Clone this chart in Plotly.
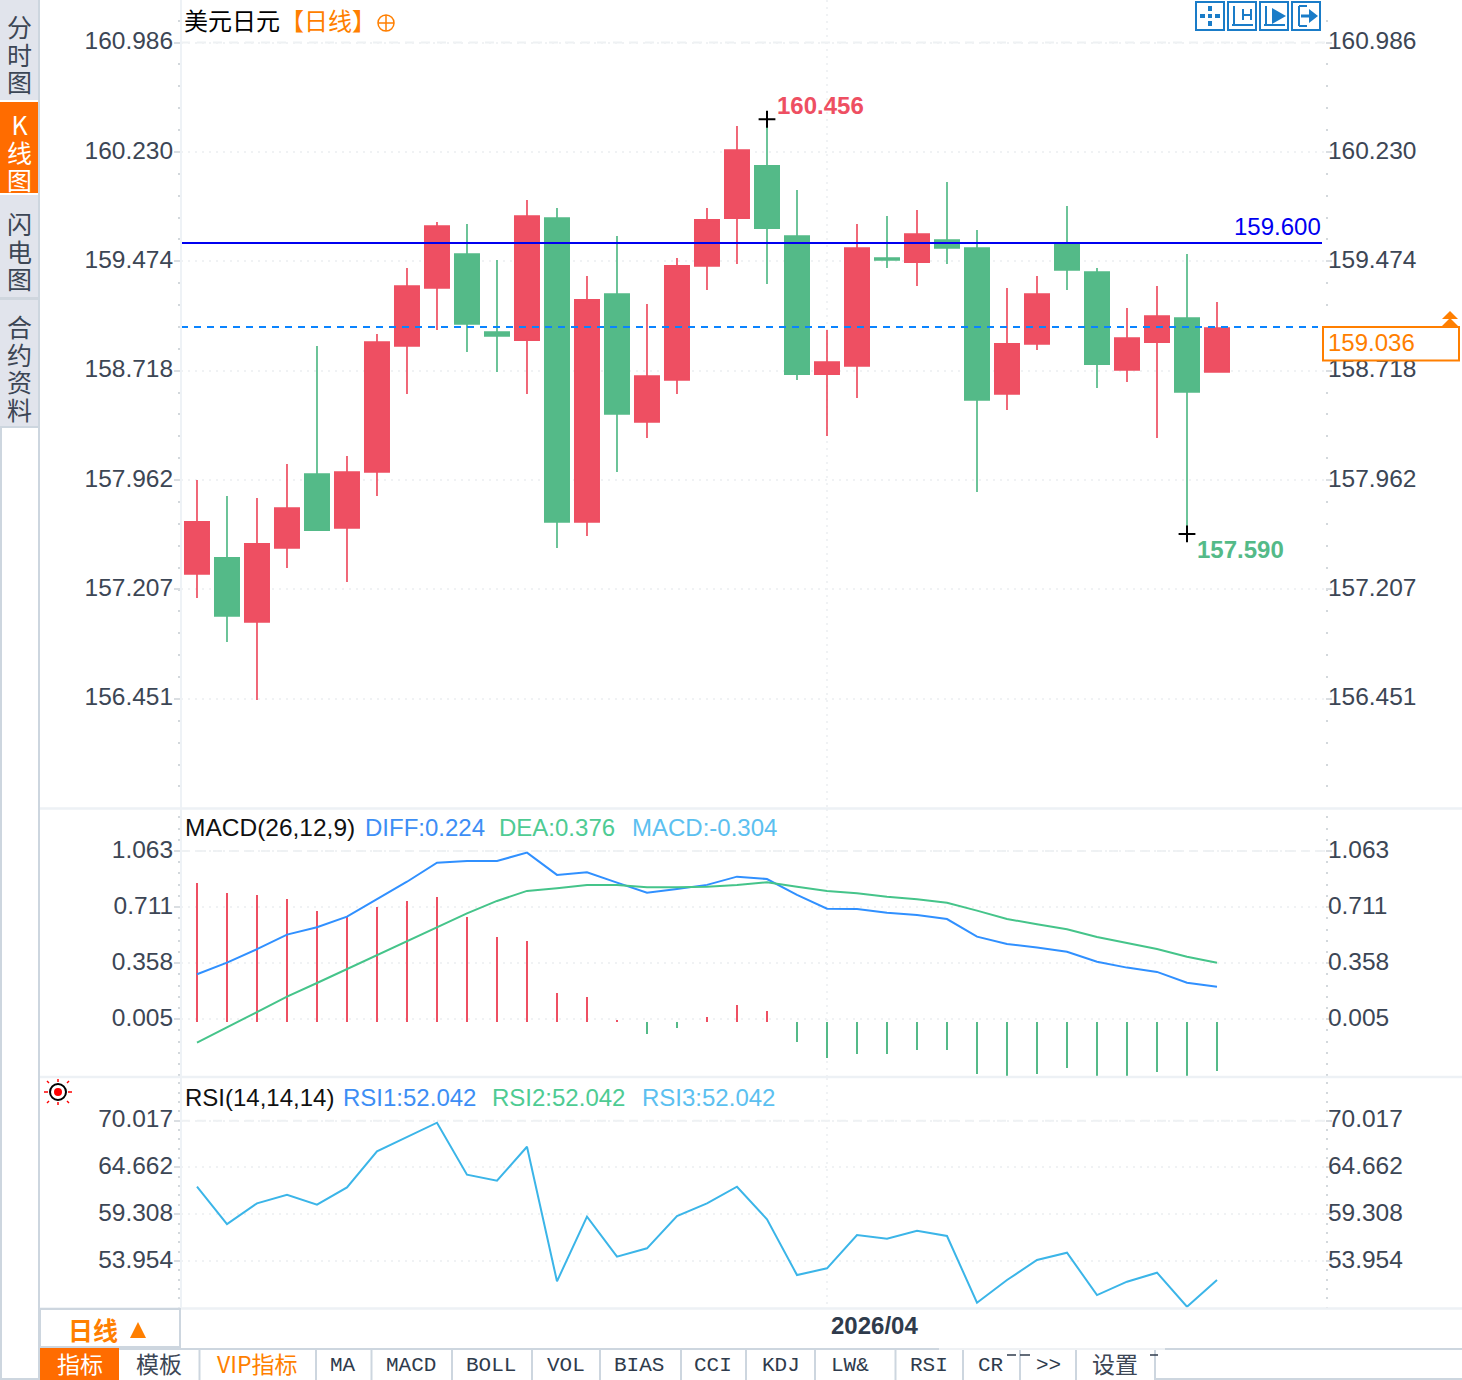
import plotly.graph_objects as go

W = 1462
H = 1380

# values
dates = ["2026/03/03", "2026/03/04", "2026/03/05", "2026/03/06", "2026/03/09", "2026/03/10", "2026/03/11",
         "2026/03/12", "2026/03/13", "2026/03/16", "2026/03/17", "2026/03/18", "2026/03/19", "2026/03/20",
         "2026/03/23", "2026/03/24", "2026/03/25", "2026/03/26", "2026/03/27", "2026/03/30", "2026/03/31",
         "2026/04/01", "2026/04/02", "2026/04/03", "2026/04/06", "2026/04/07", "2026/04/08", "2026/04/09",
         "2026/04/10", "2026/04/13", "2026/04/14", "2026/04/15", "2026/04/16", "2026/04/17", "2026/04/20"]
opens = [157.313, 157.424, 156.982, 157.493, 158.004, 157.631, 158.018, 158.889, 159.290, 159.524, 158.985, 158.930,
         159.773, 157.673, 159.248, 158.364, 158.654, 159.442, 159.773, 160.133, 159.649, 158.695, 158.751, 159.497,
         159.469, 159.621, 159.566, 158.557, 158.903, 159.594, 159.400, 158.723, 158.916, 159.082, 158.709]
highs = [157.963, 157.852, 157.838, 158.073, 158.889, 158.129, 158.972, 159.428, 159.746, 159.732, 159.483, 159.898,
         159.842, 159.373, 159.649, 159.179, 159.497, 159.842, 160.409, 160.456, 159.967, 159.000, 159.732, 159.787,
         159.829, 160.022, 159.690, 159.290, 159.373, 159.856, 159.428, 159.151, 159.303, 159.524, 159.193]
lows = [157.147, 156.843, 156.443, 157.355, 157.617, 157.258, 157.852, 158.557, 159.000, 158.847, 158.709, 158.557,
        157.493, 157.576, 158.018, 158.253, 158.557, 159.276, 159.455, 159.317, 158.654, 158.267, 158.529, 159.428,
        159.303, 159.455, 157.880, 158.447, 158.861, 159.276, 158.598, 158.640, 158.253, 157.590, 158.709]
closes = [157.673, 157.023, 157.521, 157.769, 157.617, 158.018, 158.916, 159.303, 159.718, 159.041, 158.958, 159.787,
          157.673, 159.207, 158.419, 158.681, 159.442, 159.760, 160.243, 159.704, 158.695, 158.778, 159.566, 159.483,
          159.663, 159.566, 158.516, 158.903, 159.248, 159.414, 158.764, 158.944, 159.096, 158.571, 159.013]

diff = [0.303, 0.376, 0.461, 0.553, 0.599, 0.666, 0.776, 0.886, 1.006, 1.017, 1.017, 1.069, 0.929, 0.946, 0.880,
        0.817, 0.840, 0.866, 0.918, 0.903, 0.803, 0.716, 0.714, 0.691, 0.677, 0.651, 0.540, 0.494, 0.471, 0.445,
        0.382, 0.345, 0.318, 0.250, 0.224]
dea = [-0.128, -0.033, 0.064, 0.162, 0.248, 0.336, 0.425, 0.513, 0.603, 0.687, 0.765, 0.828, 0.845, 0.866, 0.866,
       0.851, 0.851, 0.855, 0.866, 0.883, 0.855, 0.828, 0.813, 0.792, 0.776, 0.754, 0.704, 0.651, 0.618, 0.587,
       0.538, 0.502, 0.462, 0.414, 0.376]
macd = [0.876, 0.813, 0.800, 0.775, 0.699, 0.666, 0.725, 0.762, 0.788, 0.662, 0.536, 0.510, 0.183, 0.158, 0.014,
        -0.076, -0.038, 0.032, 0.107, 0.069, -0.126, -0.227, -0.202, -0.202, -0.176, -0.176, -0.328, -0.340,
        -0.328, -0.290, -0.340, -0.340, -0.315, -0.340, -0.304]
rsi = [62.72, 58.45, 60.82, 61.81, 60.66, 62.65, 66.78, 68.38, 70.05, 64.10, 63.41, 67.30, 51.89, 59.29, 54.71,
       55.67, 59.37, 60.82, 62.72, 58.99, 52.61, 53.38, 57.19, 56.77, 57.68, 57.08, 49.44, 52.04, 54.33, 55.17,
       50.32, 51.85, 52.88, 48.98, 52.042]

price_ticks = [160.986, 160.230, 159.474, 158.718, 157.962, 157.207, 156.451]
macd_ticks = [1.063, 0.711, 0.358, 0.005]
rsi_ticks = [70.017, 64.662, 59.308, 53.954]
# the grid in the lower panes sits a little off the plotted zero, same as the original chart
macd_grid_shift = 0.016
rsi_grid_shift = 0.27

target_price = 159.600
last_line = 159.020
high_mark = ("2026/03/30", 160.456)
low_mark = ("2026/04/17", 157.590)

RED = "#EE4F62"
GREEN = "#54BA88"
ORANGE = "#FF7F00"
TICK_TEXT = "#3C4655"
SANS = "Liberation Sans"
CJK = "Noto Sans CJK SC"
MONO = "Liberation Mono"
CHROME = "#CDD6DF"


def X(x):
    return x / W


def Y(y):
    return 1 - y / H


shapes = []
annotations = []


def rect(x0, y0, x1, y1, fill=None, line=None, width=0):
    shapes.append(dict(type="rect", xref="paper", yref="paper", x0=X(x0), x1=X(x1), y0=Y(y0), y1=Y(y1),
                       fillcolor=fill or "rgba(0,0,0,0)", line=dict(color=line or "rgba(0,0,0,0)", width=width)))


def seg(x0, y0, x1, y1, color=CHROME, width=2):
    shapes.append(dict(type="line", xref="paper", yref="paper", x0=X(x0), x1=X(x1), y0=Y(y0), y1=Y(y1),
                       line=dict(color=color, width=width)))


def poly(points, fill=None, line=None, width=0):
    path = "M " + " L ".join(f"{X(a):.5f} {Y(b):.5f}" for a, b in points) + (" Z" if fill else "")
    shapes.append(dict(type="path", xref="paper", yref="paper", path=path,
                       fillcolor=fill or "rgba(0,0,0,0)", line=dict(color=line or "rgba(0,0,0,0)", width=width)))


def label(x, y, text, color="#000000", size=24, anchor="left", family=SANS):
    annotations.append(dict(xref="paper", yref="paper", x=X(x), y=Y(y), text=text, showarrow=False,
                            xanchor=anchor, yanchor="middle", borderpad=0,
                            font=dict(family=family, size=size, color=color)))


def side_tab(cy, chars, color=TICK_TEXT):
    # line pitch comes from the annotation size, glyph size from the span
    text = "<br>".join(f'<span style="font-size:25px">{c}</span>' for c in chars)
    label(19, cy, text, color, 21.2, "center", CJK)


def y_axis(domain, rng, vals, texts, dtick, tick0, side="left", overlay=None, grid=True):
    ax = dict(domain=domain, range=rng, side=side, tickmode="array", tickvals=vals, ticktext=texts,
              ticks="outside", ticklen=6, tickwidth=2, tickcolor="#DADEE2",
              tickfont=dict(family=SANS, size=24.5, color=TICK_TEXT),
              ticklabelstandoff=-4 if side == "left" else -9, ticklabelshift=-2,
              showline=False, zeroline=False, fixedrange=True, anchor="x",
              showgrid=grid, gridcolor="#F0F2F4", gridwidth=2, griddash="2px,5px",
              minor=dict(ticks="outside", ticklen=2, tickwidth=2, tickcolor="#D3D8DC", tickmode="linear",
                         tick0=tick0, dtick=dtick, showgrid=False))
    if overlay:
        ax["overlaying"] = overlay
    return ax


fig = go.Figure()

fig.add_trace(go.Candlestick(
    x=dates, open=opens, high=highs, low=lows, close=closes,
    increasing=dict(line=dict(color=RED, width=1.7), fillcolor=RED),
    decreasing=dict(line=dict(color=GREEN, width=1.7), fillcolor=GREEN),
    whiskerwidth=0, xaxis="x", yaxis="y", showlegend=False,
))
# crosses on the marked high and low
fig.add_trace(go.Scatter(
    x=[high_mark[0], low_mark[0]], y=[high_mark[1], low_mark[1]],
    mode="markers", marker=dict(symbol="cross-thin", size=12, line=dict(color="#000000", width=2)),
    xaxis="x", yaxis="y", showlegend=False, hoverinfo="skip",
))

fig.add_trace(go.Bar(x=dates, y=macd, width=0.055, marker_color=[RED if v > 0 else GREEN for v in macd],
                     marker_line_width=0, xaxis="x2", yaxis="y2", showlegend=False))
fig.add_trace(go.Scatter(x=dates, y=diff, mode="lines", line=dict(color="#3090FF", width=2),
                         xaxis="x2", yaxis="y2", showlegend=False))
fig.add_trace(go.Scatter(x=dates, y=dea, mode="lines", line=dict(color="#45C48A", width=2),
                         xaxis="x2", yaxis="y2", showlegend=False))

fig.add_trace(go.Scatter(x=dates, y=rsi, mode="lines", line=dict(color="#3BB5E8", width=2),
                         xaxis="x3", yaxis="y3", showlegend=False))

# right hand scales carry one hidden point each so the axes get drawn
fig.add_trace(go.Scatter(x=dates[:1], y=closes[:1], mode="markers", marker=dict(opacity=0),
                         xaxis="x", yaxis="y4", showlegend=False, hoverinfo="skip"))
fig.add_trace(go.Scatter(x=dates[:1], y=diff[:1], mode="markers", marker=dict(opacity=0),
                         xaxis="x2", yaxis="y5", showlegend=False, hoverinfo="skip"))
fig.add_trace(go.Scatter(x=dates[:1], y=rsi[:1], mode="markers", marker=dict(opacity=0),
                         xaxis="x3", yaxis="y6", showlegend=False, hoverinfo="skip"))

x_range = [-0.533, 37.6]
x_domain = [X(181), X(1325)]
dom_main = [Y(808), 1]
dom_macd = [Y(1077), Y(809)]
dom_rsi = [Y(1308), Y(1078)]
rng_main = [155.696, 161.280]
rng_macd = [-0.344, 1.344]
rng_rsi = [48.836, 75.17]

x_common = dict(domain=x_domain, range=x_range, type="category", categoryorder="array", categoryarray=dates,
                tickmode="array", tickvals=["2026/04/01"], showticklabels=False, ticks="", showline=False,
                zeroline=False, fixedrange=True, showgrid=True, gridcolor="#F0F2F4", gridwidth=2,
                griddash="2px,5px", rangeslider=dict(visible=False))

macd_vals = [round(v + macd_grid_shift, 3) for v in macd_ticks]
rsi_vals = [round(v + rsi_grid_shift, 3) for v in rsi_ticks]
price_text = [f"{v:.3f}" for v in price_ticks]
macd_text = [f"{v:.3f}" for v in macd_ticks]
rsi_text = [f"{v:.3f}" for v in rsi_ticks]

fig.update_layout(
    width=W, height=H, margin=dict(l=0, r=0, t=0, b=0), paper_bgcolor="#FFFFFF", plot_bgcolor="#FFFFFF",
    showlegend=False, boxgap=0.19, boxgroupgap=0, bargap=0,
    xaxis=dict(x_common, anchor="y"),
    xaxis2=dict(x_common, anchor="y2"),
    xaxis3=dict(x_common, anchor="y3"),
    yaxis=y_axis(dom_main, rng_main, price_ticks, price_text, 0.1512, 160.986),
    yaxis2=y_axis(dom_macd, rng_macd, macd_vals, macd_text, 0.0706, macd_vals[0]),
    yaxis3=y_axis(dom_rsi, rng_rsi, rsi_vals, rsi_text, 1.0708, rsi_vals[0]),
    yaxis4=y_axis(dom_main, rng_main, price_ticks, price_text, 0.1512, 160.986, "right", "y", False),
    yaxis5=y_axis(dom_macd, rng_macd, macd_vals, macd_text, 0.0706, macd_vals[0], "right", "y2", False),
    yaxis6=y_axis(dom_rsi, rng_rsi, rsi_vals, rsi_text, 1.0708, rsi_vals[0], "right", "y3", False),
)
fig.layout.yaxis2.anchor = "x2"
fig.layout.yaxis5.anchor = "x2"
fig.layout.yaxis3.anchor = "x3"
fig.layout.yaxis6.anchor = "x3"
fig.layout.yaxis4.anchor = "x"

# dashed top grid lines, target and last price lines
for ref, val in (("y", price_ticks[0]), ("y2", macd_vals[0]), ("y3", rsi_vals[0])):
    shapes.append(dict(type="line", xref="paper", yref=ref, x0=X(181), x1=X(1325), y0=val, y1=val, layer="below",
                       line=dict(color="#EEF1F3", width=2, dash="9px,7px")))
shapes.append(dict(type="line", xref="paper", yref="y", x0=X(181), x1=X(1322), y0=target_price, y1=target_price,
                   line=dict(color="#0000F0", width=2)))
shapes.append(dict(type="line", xref="paper", yref="y", x0=X(181), x1=X(1318), y0=last_line, y1=last_line,
                   line=dict(color="#0A84FF", width=2, dash="7px,6px")))

# pane frame
seg(181, 0, 181, 1308, "#EEF2F6", 2)
seg(40, 808.5, W, 808.5, "#EDF1F5", 2.5)
seg(40, 1077, W, 1077, "#EDF1F5", 2.5)
seg(40, 1308.5, W, 1308.5, "#EDF1F5", 2.5)

# left side tabs
rect(0, 0, 39, 100, "#E1E4EC")
rect(0, 102, 38, 193, "#FF6C00")
rect(0, 195, 39, 297, "#E1E4EC")
rect(0, 300, 39, 426, "#E1E4EC")
rect(0, 297, 39, 300, "#CFD6DE")
seg(39, 0, 39, H, CHROME, 2)
seg(1, 426, 1, H, CHROME, 2)
seg(0, 427, 39, 427, CHROME, 2)
seg(0, 1379, 40, 1379, CHROME, 2)
side_tab(54, "分时图")
side_tab(152, "K线图", "#FFFFFF")
side_tab(250, "闪电图")
side_tab(368, "合约资料")

# title line
label(183, 20, "美元日元", "#000000", 24, "left", CJK)
label(279, 20, "【日线】", ORANGE, 24, "left", CJK)
shapes.append(dict(type="circle", xref="paper", yref="paper", x0=X(378), x1=X(394), y0=Y(15), y1=Y(31),
                   line=dict(color=ORANGE, width=1.5)))
seg(378, 23, 394, 23, ORANGE, 1.5)
seg(386, 15, 386, 31, ORANGE, 1.5)

# tool buttons
BLUE = "#1A7CC8"
for x0 in (1196, 1228, 1260, 1292):
    rect(x0, 2, x0 + 28, 30, None, BLUE, 2)
rect(1208, 6, 1212, 11, BLUE)
rect(1208, 21, 1212, 26, BLUE)
rect(1200, 14, 1205, 18, BLUE)
rect(1215, 14, 1220, 18, BLUE)
rect(1208, 14, 1212, 18, BLUE)
for x0 in (1228, 1260):
    seg(x0 + 6, 6, x0 + 6, 25, BLUE, 2)
    seg(x0 + 4, 25, x0 + 25, 25, BLUE, 2)
seg(1243, 9, 1243, 20, BLUE, 2)
seg(1251, 9, 1251, 20, BLUE, 2)
seg(1243, 15, 1251, 15, BLUE, 2)
poly([(1272, 8), (1286, 16), (1272, 24)], BLUE)
seg(1299, 6, 1299, 26, BLUE, 2)
seg(1299, 6, 1307, 6, BLUE, 2)
seg(1299, 26, 1307, 26, BLUE, 2)
seg(1301, 16, 1310, 16, BLUE, 3)
poly([(1309, 9), (1318, 16), (1309, 23)], BLUE)

# price labels inside the chart
label(776, 105, "<b>160.456</b>", RED, 24)
label(1196, 549, "<b>157.590</b>", GREEN, 24)
label(1322, 227, "159.600", "#0000F0", 24, "right")

rect(1323, 327, 1459, 360.5, "#FFFFFF", ORANGE, 2)
label(1327, 343, "159.036", ORANGE, 24)
poly([(1442, 319), (1450, 311), (1458, 319)], ORANGE)
poly([(1442, 326), (1450, 318), (1458, 326)], ORANGE)

# indicator headers
label(184, 827, "MACD(26,12,9)", "#111111", 24.5)
label(364, 827, "DIFF:0.224", "#3D8EF5", 24)
label(498, 827, "DEA:0.376", "#4ECB93", 24)
label(631, 827, "MACD:-0.304", "#5CC0F0", 24)
label(184, 1097, "RSI(14,14,14)", "#111111", 24)
label(342, 1097, "RSI1:52.042", "#3D8EF5", 24)
label(491, 1097, "RSI2:52.042", "#4ECB93", 24)
label(641, 1097, "RSI3:52.042", "#5CC0F0", 24)

# sun icon next to RSI
shapes.append(dict(type="circle", xref="paper", yref="paper", x0=X(50), x1=X(66), y0=Y(1084), y1=Y(1100),
                   line=dict(color="#000000", width=2)))
shapes.append(dict(type="circle", xref="paper", yref="paper", x0=X(54), x1=X(62), y0=Y(1088), y1=Y(1096),
                   fillcolor="#FF0000", line=dict(color="#FF0000", width=0)))
for a, b, c, d in [(58, 1079, 58, 1082), (58, 1102, 58, 1105), (44, 1092, 48, 1092), (68, 1092, 72, 1092),
                   (47, 1081, 49, 1083), (67, 1083, 69, 1081), (47, 1103, 49, 1101), (67, 1101, 69, 1103)]:
    seg(a, b, c, d, "#FF0000", 1.5)

# period box and month label
rect(40, 1309, 180, 1347, "#FFFFFF", CHROME, 2)
label(93, 1329, "<b>日线</b>", ORANGE, 25, "center", CJK)
poly([(130, 1338), (138, 1322), (146, 1338)], ORANGE)
label(830, 1325, "<b>2026/04</b>", "#2F3B4C", 24)

# bottom tabs
seg(40, 1349, W, 1349, CHROME, 2)
seg(939, 1349, 1165, 1349, "#EEF1F4", 2)
seg(1155, 1379, W, 1379, CHROME, 2)
rect(40, 1348, 119, 1380, "#FF6C00")
for sx in (199.5, 316, 371.5, 452, 532, 600, 681, 746, 815, 895.5, 963, 1020, 1076, 1155):
    seg(sx, 1350, sx, 1380, CHROME, 2)
label(80, 1363, "指标", "#FFFFFF", 23, "center", CJK)
label(159, 1363, "模板", TICK_TEXT, 23, "center", CJK)
label(257, 1363, "VIP指标", ORANGE, 23, "center", CJK)
for tx, tab in [(343, "MA"), (411, "MACD"), (491, "BOLL"), (566, "VOL"), (639, "BIAS"), (713, "CCI"),
                (781, "KDJ"), (850, "LW&"), (929, "RSI"), (991, "CR"), (1048, ">>")]:
    label(tx, 1365, tab, "#2F3B4C", 21, "center", MONO)
label(1115, 1363, "设置", TICK_TEXT, 23, "center", CJK)
seg(1007, 1355, 1016, 1355, "#2F3B4C", 1.5)
seg(1020, 1355, 1030, 1355, "#2F3B4C", 1.5)
seg(1150, 1355, 1158, 1355, "#2F3B4C", 1.5)

fig.update_layout(shapes=shapes, annotations=annotations)

fig.write_html("out.html", config=dict(displayModeBar=False),
               post_script="document.body.style.margin='0';")
